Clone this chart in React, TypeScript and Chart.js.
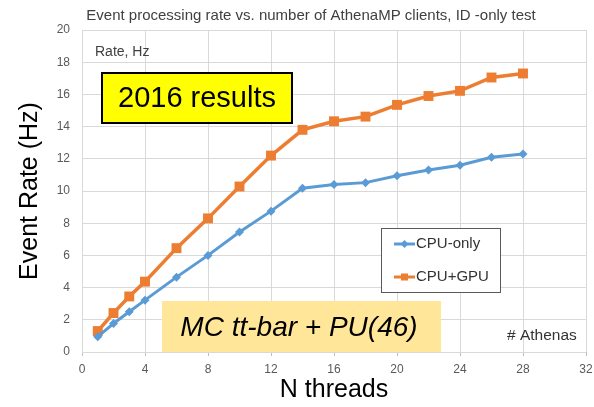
import React, { useEffect, useRef } from "react";
import { Chart, registerables } from "chart.js";

Chart.register(...registerables);

const threads = [1, 2, 3, 4, 6, 8, 10, 12, 14, 16, 18, 20, 22, 24, 26, 28];
const cpuOnly = [0.95, 1.77, 2.5, 3.22, 4.65, 6.0, 7.45, 8.75, 10.17, 10.4, 10.52, 10.95, 11.3, 11.6, 12.1, 12.3];
const cpuGpu = [1.3, 2.42, 3.45, 4.37, 6.45, 8.3, 10.28, 12.2, 13.8, 14.33, 14.62, 15.35, 15.9, 16.22, 17.05, 17.3];
const seriesNames = ["CPU-only", "CPU+GPU"];
const chartTitle = "Event processing rate vs. number of AthenaMP clients, ID -only test";
const xTitle = "N threads";
const yTitle = "Event Rate (Hz)";
const yUnitNote = "Rate, Hz";
const yearNote = "2016 results";
const sampleNote = "MC tt-bar + PU(46)";
const xNote = "# Athenas";

const BLUE = "#5B9BD5";
const ORANGE = "#ED7D31";

const annotations = {
  id: "annotations",
  afterDraw(chart: any) {
    const ctx = chart.ctx as CanvasRenderingContext2D;
    const area = chart.chartArea;
    ctx.save();
    // title
    ctx.fillStyle = "#404040";
    ctx.font = "15px 'Liberation Sans', Arial, sans-serif";
    ctx.textAlign = "center";
    ctx.textBaseline = "middle";
    ctx.fillText(chartTitle, 311, 16);

    // Rate, Hz
    ctx.fillStyle = "#404040";
    ctx.font = "14px 'Liberation Sans', Arial, sans-serif";
    ctx.textAlign = "left";
    ctx.fillText(yUnitNote, 95, 52);

    // 2016 results box
    ctx.fillStyle = "#FFFF00";
    ctx.fillRect(102, 73, 190, 50);
    ctx.strokeStyle = "#000000";
    ctx.lineWidth = 2;
    ctx.strokeRect(102, 73, 190, 50);
    ctx.fillStyle = "#000000";
    ctx.font = "29px 'Liberation Sans', Arial, sans-serif";
    ctx.textAlign = "center";
    ctx.fillText(yearNote, 197, 99);

    // MC box
    ctx.fillStyle = "#FFE699";
    ctx.fillRect(162, 301, 279, area.bottom - 301);
    ctx.fillStyle = "#000000";
    ctx.font = "italic 28px 'Liberation Sans', Arial, sans-serif";
    ctx.textAlign = "center";
    ctx.fillText(sampleNote, 299, 328);

    // # Athenas
    ctx.fillStyle = "#333333";
    ctx.font = "15.5px 'Liberation Sans', Arial, sans-serif";
    ctx.textAlign = "left";
    ctx.fillText(xNote, 507, 336);

    // legend
    ctx.fillStyle = "#ffffff";
    ctx.fillRect(381.5, 228.5, 119, 64);
    ctx.strokeStyle = "#595959";
    ctx.lineWidth = 1;
    ctx.strokeRect(381.5, 228.5, 119, 64);
    const entries = [
      { label: chart.data.datasets[0].label, color: BLUE, y: 244, style: "diamond" },
      { label: chart.data.datasets[1].label, color: ORANGE, y: 277, style: "square" },
    ];
    ctx.font = "15px 'Liberation Sans', Arial, sans-serif";
    ctx.textBaseline = "middle";
    for (const e of entries) {
      ctx.strokeStyle = e.color;
      ctx.lineWidth = 3;
      ctx.beginPath();
      ctx.moveTo(394, e.y);
      ctx.lineTo(415, e.y);
      ctx.stroke();
      ctx.fillStyle = e.color;
      if (e.style === "diamond") {
        ctx.beginPath();
        ctx.moveTo(404.5, e.y - 4);
        ctx.lineTo(408.5, e.y);
        ctx.lineTo(404.5, e.y + 4);
        ctx.lineTo(400.5, e.y);
        ctx.closePath();
        ctx.fill();
      } else {
        ctx.fillRect(401, e.y - 3.5, 7, 7);
      }
      ctx.fillStyle = "#333333";
      ctx.textAlign = "left";
      ctx.fillText(e.label, 416, e.y);
    }
    ctx.restore();
  },
};

export default function App() {
  const ref = useRef<HTMLCanvasElement | null>(null);
  useEffect(() => {
    document.body.style.margin = "0";
    const canvas = ref.current;
    if (!canvas) return;
    const chart = new Chart(canvas, {
      type: "line",
      data: {
        datasets: [
          {
            label: seriesNames[0],
            data: threads.map((t, i) => ({ x: t, y: cpuOnly[i] })),
            borderColor: BLUE,
            backgroundColor: BLUE,
            borderWidth: 3,
            pointStyle: "rectRot",
            pointRadius: 4.5,
            pointBorderWidth: 0,
            pointBackgroundColor: BLUE,
            tension: 0,
          },
          {
            label: seriesNames[1],
            data: threads.map((t, i) => ({ x: t, y: cpuGpu[i] })),
            borderColor: ORANGE,
            backgroundColor: ORANGE,
            borderWidth: 3.5,
            pointStyle: "rect",
            pointRadius: 7,
            pointBorderWidth: 0,
            pointBackgroundColor: ORANGE,
            tension: 0,
          },
        ],
      },
      options: {
        animation: false,
        responsive: false,
        maintainAspectRatio: false,
        layout: { padding: { left: 0, top: 30, right: 8, bottom: 0 } },
        plugins: {
          legend: { display: false },
          title: { display: false },
          tooltip: { enabled: false },
        },
        scales: {
          x: {
            type: "linear",
            min: 0,
            max: 32,
            afterFit: (s: any) => {
              s.height = 55;
              s.paddingRight = 0;
              s.paddingLeft = 0;
            },
            ticks: {
              stepSize: 4,
              color: "#595959",
              padding: 6,
              font: { size: 12, family: "'Liberation Sans', Arial, sans-serif" },
            },
            grid: { color: "#d9d9d9", tickLength: 4, tickColor: "#bfbfbf" },
            border: { display: false },
            title: {
              display: true,
              text: xTitle,
              color: "#000000",
              font: { size: 25, family: "'Liberation Sans', Arial, sans-serif" },
              padding: { top: 0, bottom: 2 },
            },
          },
          y: {
            type: "linear",
            min: 0,
            max: 20,
            afterFit: (s: any) => {
              s.width = 82;
            },
            ticks: {
              stepSize: 2,
              color: "#595959",
              padding: 12,
              font: { size: 12, family: "'Liberation Sans', Arial, sans-serif" },
            },
            grid: { color: "#d9d9d9", drawTicks: false },
            border: { display: false },
            title: {
              display: true,
              text: yTitle,
              color: "#000000",
              font: { size: 25, family: "'Liberation Sans', Arial, sans-serif" },
              padding: { top: 15, bottom: 0 },
            },
          },
        },
      },
      plugins: [annotations],
    });
    return () => chart.destroy();
  }, []);
  return (
    <div style={{ width: 594, height: 407, background: "#ffffff" }}>
      <canvas ref={ref} width={594} height={407} style={{ display: "block" }} />
    </div>
  );
}
